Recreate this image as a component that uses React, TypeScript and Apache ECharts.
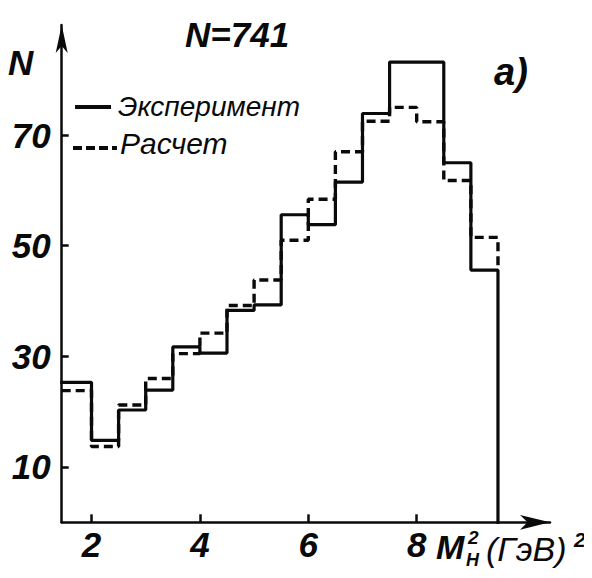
import React, { useEffect, useRef } from "react";
import * as echarts from "echarts";

// Bin edges (M_H^2, GeV^2) and counts per bin
const binEdges = [1.5, 2.0, 2.5, 3.0, 3.5, 4.0, 4.5, 5.0, 5.5, 6.0, 6.5, 7.0, 7.5, 8.0, 8.5, 9.0, 9.5];
const experiment = [25.3, 14.8, 20.3, 23.9, 31.7, 30.6, 38.3, 39.3, 55.6, 53.8, 61.5, 73.9, 83.2, 83.2, 65.0, 45.6];
const calculation = [23.8, 13.7, 21.2, 26.0, 30.5, 34.2, 39.2, 43.8, 51.0, 58.4, 67.0, 72.5, 75.0, 72.4, 61.8, 51.5];
const xTicks = [2, 4, 6, 8];
const yTicks = [10, 30, 50, 70];
const legendNames = ["Эксперимент", "Расчет"];

const X_MIN = 1.45;
const X_MAX = 10.46;
const Y_MIN = 0;
const Y_MAX = 89.9;

const FONT = "Liberation Sans";
const INK = "#0a0a0a";

function stepPoints(values: number[], endLevel: number): number[][] {
  const pts: number[][] = values.map((v, i) => [i === 0 ? X_MIN : binEdges[i], v]);
  const last = binEdges[binEdges.length - 1];
  pts.push([last, values[values.length - 1]]);
  pts.push([last, endLevel]);
  return pts;
}

export default function App() {
  const ref = useRef<HTMLDivElement>(null);

  useEffect(() => {
    if (!ref.current) return;
    const chart = echarts.init(ref.current, null, { renderer: "svg" });
    const textBase = { fontFamily: FONT, fontStyle: "italic", fill: INK };
    chart.setOption({
      animation: false,
      backgroundColor: "#ffffff",
      textStyle: { fontFamily: FONT },
      grid: { left: 61.7, right: 42, top: 25, bottom: 55.7, containLabel: false },
      xAxis: {
        type: "value",
        min: X_MIN,
        max: X_MAX,
        splitLine: { show: false },
        axisLine: {
          show: true,
          symbol: ["none", "arrow"],
          symbolSize: [11, 30],
          lineStyle: { color: INK, width: 2.5 },
        },
        axisTick: {
          show: true,
          inside: true,
          length: 8,
          customValues: xTicks,
          lineStyle: { color: INK, width: 2.5 },
        },
        axisLabel: {
          customValues: xTicks,
          margin: 5,
          fontSize: 35,
          fontStyle: "italic",
          fontWeight: "bold",
          fontFamily: FONT,
          color: INK,
        },
      },
      yAxis: {
        type: "value",
        min: Y_MIN,
        max: Y_MAX,
        splitLine: { show: false },
        axisLine: {
          show: true,
          symbol: ["none", "arrow"],
          symbolSize: [9, 28],
          lineStyle: { color: INK, width: 2.5 },
        },
        axisTick: {
          show: true,
          inside: true,
          length: 7,
          customValues: yTicks,
          lineStyle: { color: INK, width: 2.5 },
        },
        axisLabel: {
          customValues: yTicks,
          margin: 11,
          fontSize: 35,
          fontStyle: "italic",
          fontWeight: "bold",
          fontFamily: FONT,
          color: INK,
          padding: [6, 0, 0, 0],
        },
      },
      series: [
        {
          name: legendNames[0],
          type: "line",
          step: "end",
          symbol: "none",
          data: stepPoints(experiment, 0),
          lineStyle: { color: INK, width: 3.2, type: "solid", cap: "square" },
          z: 3,
        },
        {
          name: legendNames[1],
          type: "line",
          step: "end",
          symbol: "none",
          data: stepPoints(calculation, experiment[experiment.length - 1]),
          lineStyle: { color: INK, width: 3.4, type: [9, 5] },
          z: 4,
        },
      ],
      graphic: [
        { type: "text", x: 185, y: 34, style: { ...textBase, text: "N=741", fontSize: 35, fontWeight: "bold", textVerticalAlign: "middle" } },
        { type: "text", x: 8, y: 62, style: { ...textBase, text: "N", fontSize: 35, fontWeight: "bold", textVerticalAlign: "middle" } },
        { type: "text", x: 494, y: 72, style: { ...textBase, text: "а)", fontSize: 38, fontWeight: "bold", textVerticalAlign: "middle" } },
        { type: "line", shape: { x1: 75, y1: 107, x2: 111, y2: 107 }, style: { stroke: INK, lineWidth: 4 } },
        { type: "text", x: 118, y: 106, style: { ...textBase, text: legendNames[0], fontSize: 28, textVerticalAlign: "middle" } },
        { type: "line", shape: { x1: 73, y1: 148, x2: 117, y2: 148 }, style: { stroke: INK, lineWidth: 4, lineDash: [9, 4] } },
        { type: "text", x: 120, y: 143, style: { ...textBase, text: legendNames[1], fontSize: 30, textVerticalAlign: "middle" } },
        { type: "text", x: 436, y: 547, style: { ...textBase, text: "M", fontSize: 34, fontWeight: "bold", textVerticalAlign: "middle" } },
        { type: "text", x: 468, y: 537, style: { ...textBase, text: "2", fontSize: 19, fontWeight: "bold", textVerticalAlign: "middle" } },
        { type: "text", x: 466, y: 560, style: { ...textBase, text: "H", fontSize: 18, fontWeight: "bold", textVerticalAlign: "middle" } },
        { type: "text", x: 486, y: 549, style: { ...textBase, text: "(ГэВ)", fontSize: 34, textVerticalAlign: "middle" } },
        { type: "text", x: 574, y: 539, style: { ...textBase, text: "2", fontSize: 21, fontWeight: "bold", textVerticalAlign: "middle" } },
      ],
    });
    return () => chart.dispose();
  }, []);

  return <div ref={ref} style={{ width: 592, height: 578, margin: -8 }} />;
}
